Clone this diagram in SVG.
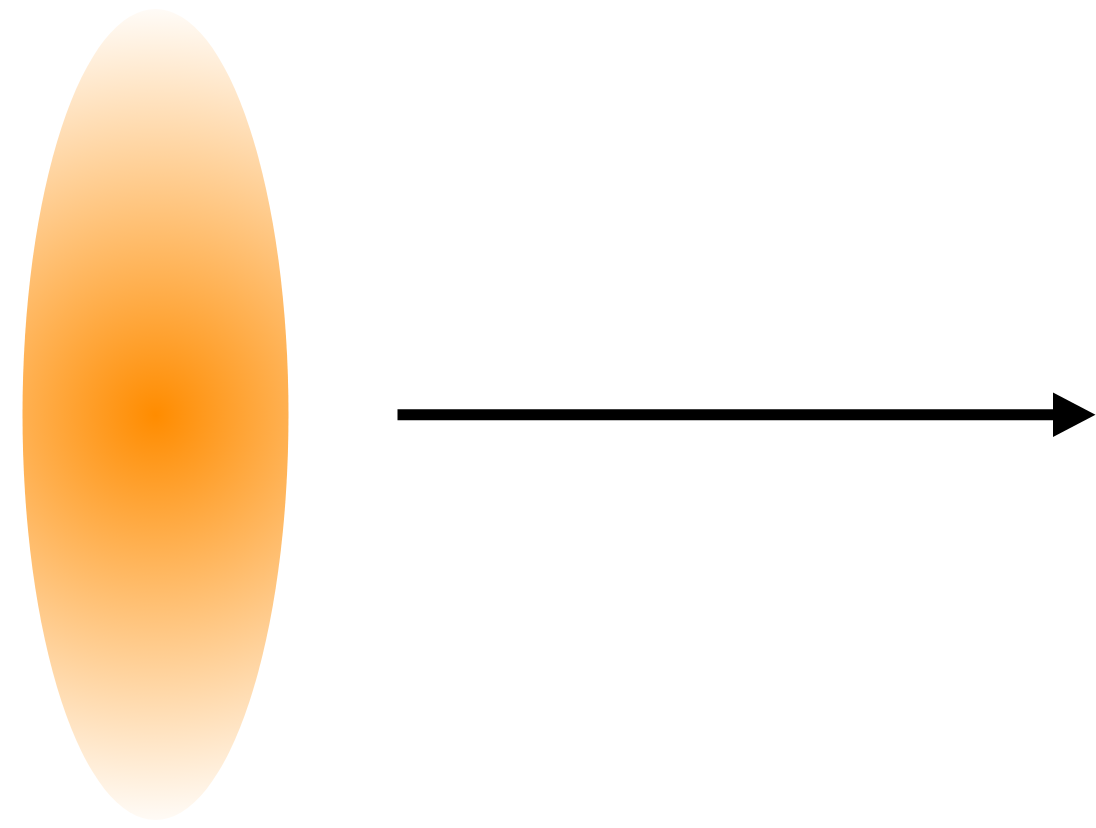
<svg xmlns="http://www.w3.org/2000/svg" width="1096" height="828" viewBox="0 0 1096 828">
  <defs>
    <radialGradient id="glow" gradientUnits="userSpaceOnUse" cx="155.5" cy="415" r="420">
      <stop offset="0" stop-color="#FF8C00" stop-opacity="1"/>
      <stop offset="1" stop-color="#FF8C00" stop-opacity="0"/>
    </radialGradient>
    <marker id="arrow" markerUnits="userSpaceOnUse" markerWidth="44" markerHeight="46" refX="1" refY="22.5" orient="auto">
      <path d="M0,0 L43,22.5 L0,45 Z" fill="#000"/>
    </marker>
  </defs>
  <rect width="1096" height="828" fill="#fff"/>
  <g id="source">
    <ellipse cx="155.5" cy="414.5" rx="133" ry="405.5" fill="url(#glow)"/>
  </g>
  <g id="connectors">
    <line x1="397.5" y1="414.8" x2="1053.5" y2="414.8" stroke="#000" stroke-width="11" marker-end="url(#arrow)"/>
  </g>
</svg>
